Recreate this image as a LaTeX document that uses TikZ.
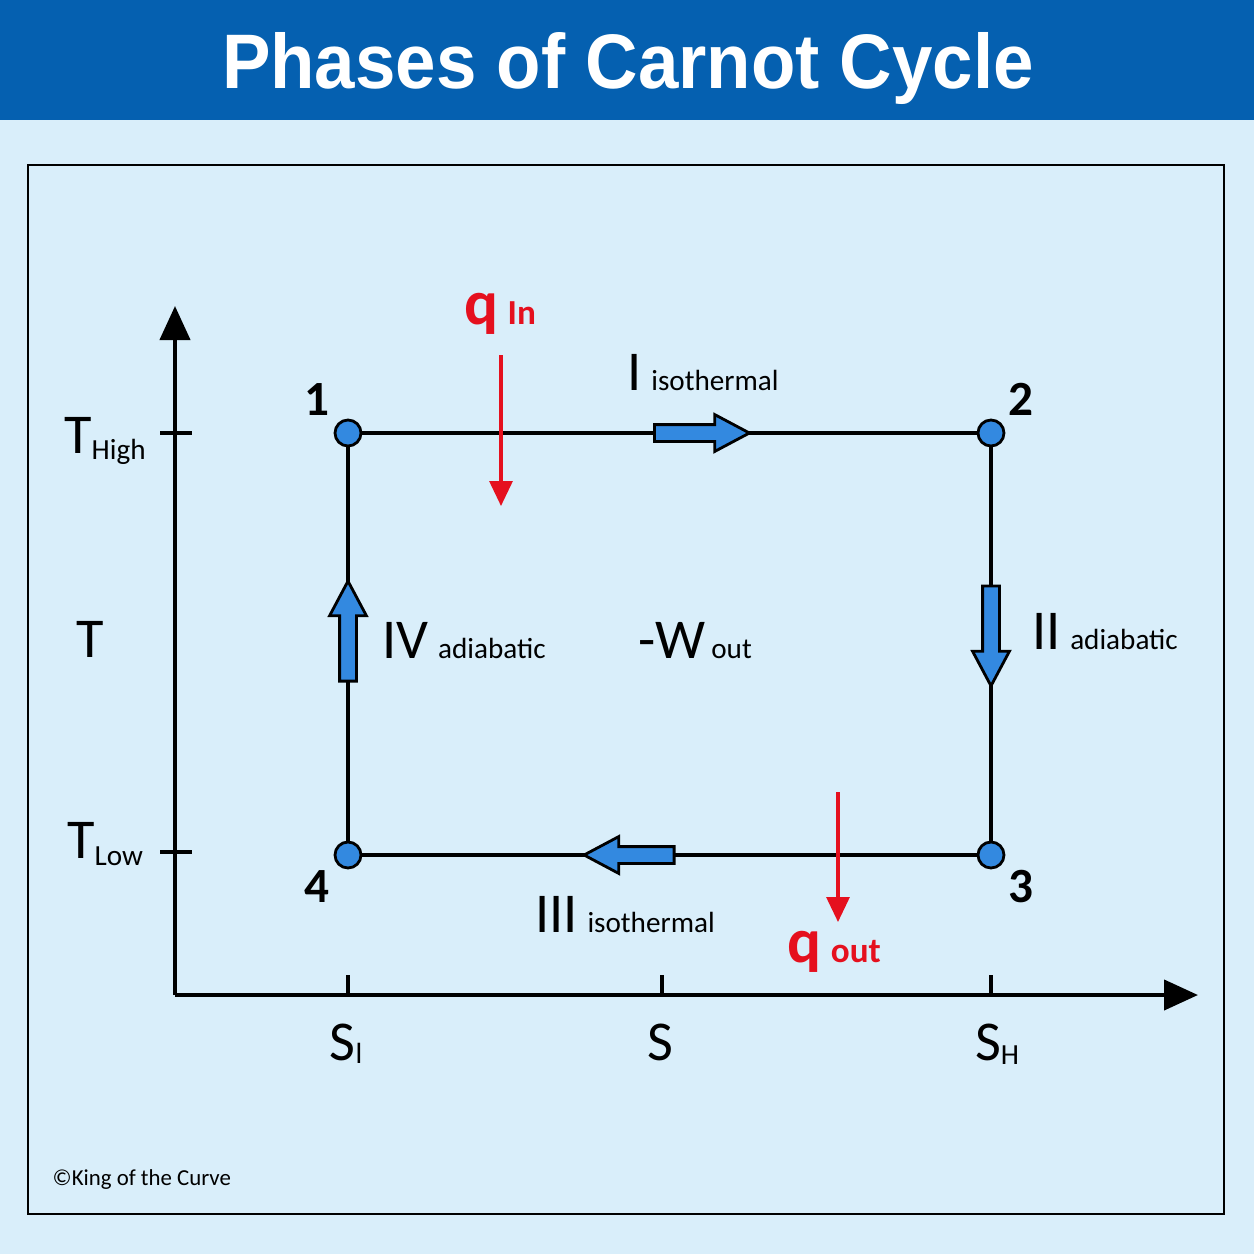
\documentclass[tikz,border=0pt]{standalone}
\usepackage{fontspec}
\usepackage{graphicx}
\usepackage{tikz}
\usetikzlibrary{positioning,arrows.meta,shapes.arrows}
\newfontfamily\lblfont{Carlito}
\newfontfamily\ttlfont{Liberation Sans}
\definecolor{bgc}{HTML}{D9EEFA}
\definecolor{barc}{HTML}{0560B0}
\definecolor{ptc}{HTML}{3389E0}
\definecolor{qred}{HTML}{E5101E}
\newcommand\lgtx[1]{{\fontsize{16}{18}\selectfont #1}}
\newcommand\smtx[1]{{\fontsize{8.3}{10}\selectfont #1}}
\newcommand\qtx[1]{{\fontsize{10}{12}\selectfont #1}}
\tikzset{
  pt/.style={circle, draw, fill=ptc, line width=0.8pt, minimum size=2.6mm, inner sep=0pt},
  edge/.style={line width=1.2pt},
  axis/.style={line width=1.2pt, -{Triangle[length=3.4mm, width=3mm]}},
  tick/.style={line width=1.1pt},
  heat/.style={qred, line width=0.9pt, -{Triangle[length=2.5mm, width=2.3mm]}},
  flow/.style={single arrow, draw, fill=ptc, line width=0.8pt,
               inner xsep=0pt, inner ysep=0.7mm,
               single arrow head extend=1mm,
               single arrow tip angle=56},
  lbl/.style={anchor=base, inner sep=0pt, font=\lblfont},
  num/.style={lbl, font=\lblfont\bfseries\fontsize{14}{16}\selectfont},
}
\begin{document}
\begin{tikzpicture}[x=0.1mm, y=-0.1mm]
  \useasboundingbox (0,0) rectangle (1254,1254);
  \fill[bgc] (0,0) rectangle (1254,1254);
  \fill[barc] (0,0) rectangle (1254,120);
  \node[anchor=base, text=white, inner sep=0pt] (title) at (628,88)
    {\scalebox{0.94}[1]{\ttlfont\bfseries\fontsize{22}{26}\selectfont Phases of Carnot Cycle}};
  \draw[line width=0.7pt] (28,165) rectangle (1224,1214);

  % axes
  \coordinate (o) at (175,995);
  \coordinate (ytip) at (175,306);
  \coordinate (xtip) at (1198,995);
  \draw[axis] (o) -- (ytip);
  \draw[axis] (o) -- (xtip);

  % cycle corners
  \node[pt] (p1) at (348,433) {};
  \node[pt] (p2) at (991,433) {};
  \node[pt] (p3) at (991,855) {};
  \node[pt] (p4) at (348,855) {};
  \draw[edge] (p1) -- (p2);
  \draw[edge] (p2) -- (p3);
  \draw[edge] (p3) -- (p4);
  \draw[edge] (p4) -- (p1);

  % ticks
  \draw[tick] (160,433) -- (192,433);
  \draw[tick] (160,852) -- (192,852);
  \draw[tick] (348,975) -- (348,995);
  \draw[tick] (662,975) -- (662,995);
  \draw[tick] (991,975) -- (991,995);

  % direction arrows
  \node[flow, minimum height=9.5mm] (f12) at (694,433) {};
  \node[flow, minimum height=10mm, rotate=-90] (f23) at (991,628) {};
  \node[flow, minimum height=9mm, rotate=180] (f34) at (637,855) {};
  \node[flow, minimum height=10mm, rotate=90] (f41) at (348,639) {};

  % heat flows
  \coordinate (qa) at (501,355);
  \coordinate (qb) at (501,506);
  \coordinate (qc) at (838,792);
  \coordinate (qd) at (838,922);
  \draw[heat] (qa) -- (qb);
  \draw[heat] (qc) -- (qd);

  % labels
  \node[num] (n1) at (317,415) {1};
  \node[num] (n2) at (1021,415) {2};
  \node[num] (n3) at (1021,902) {3};
  \node[num] (n4) at (317,902) {4};
  \node[lbl] (thigh) at (105,453) {\lgtx{T}\raisebox{-0.6mm}{\smtx{High}}};
  \node[lbl] (tax) at (90,657) {\lgtx{T}};
  \node[lbl] (tlow) at (105,858) {\lgtx{T}\raisebox{-0.7mm}{\smtx{Low}}};
  \node[lbl] (slow) at (346,1060) {\lgtx{S}\raisebox{-0.3mm}{\smtx{l}}};
  \node[lbl] (sax) at (660,1060) {\lgtx{S}};
  \node[lbl] (shigh) at (997,1060) {\lgtx{S}\raisebox{-0.4mm}{\smtx{H}}};
  \node[lbl] (ph1) at (703,390) {\lgtx{I}\;\smtx{isothermal}};
  \node[lbl] (ph2) at (1105,649) {\lgtx{II}\;\smtx{adiabatic}};
  \node[lbl] (ph3) at (625,932) {\lgtx{III}\;\smtx{isothermal}};
  \node[lbl] (ph4) at (464,658) {\lgtx{IV}\;\smtx{adiabatic}};
  \node[lbl] (wout) at (695,658) {\lgtx{-W}\,\smtx{out}};
  \node[lbl, text=qred, font=\lblfont\bfseries] (qin) at (500,324)
    {{\fontsize{18}{20}\selectfont q}\;\qtx{In}};
  \node[lbl, text=qred, font=\lblfont\bfseries] (qout) at (834,962)
    {{\fontsize{18}{20}\selectfont q}\;\qtx{out}};
  \node[lbl, anchor=base west] (copy) at (52,1185)
    {{\fontsize{6.5}{8}\selectfont \textcopyright King of the Curve}};
\end{tikzpicture}
\end{document}
